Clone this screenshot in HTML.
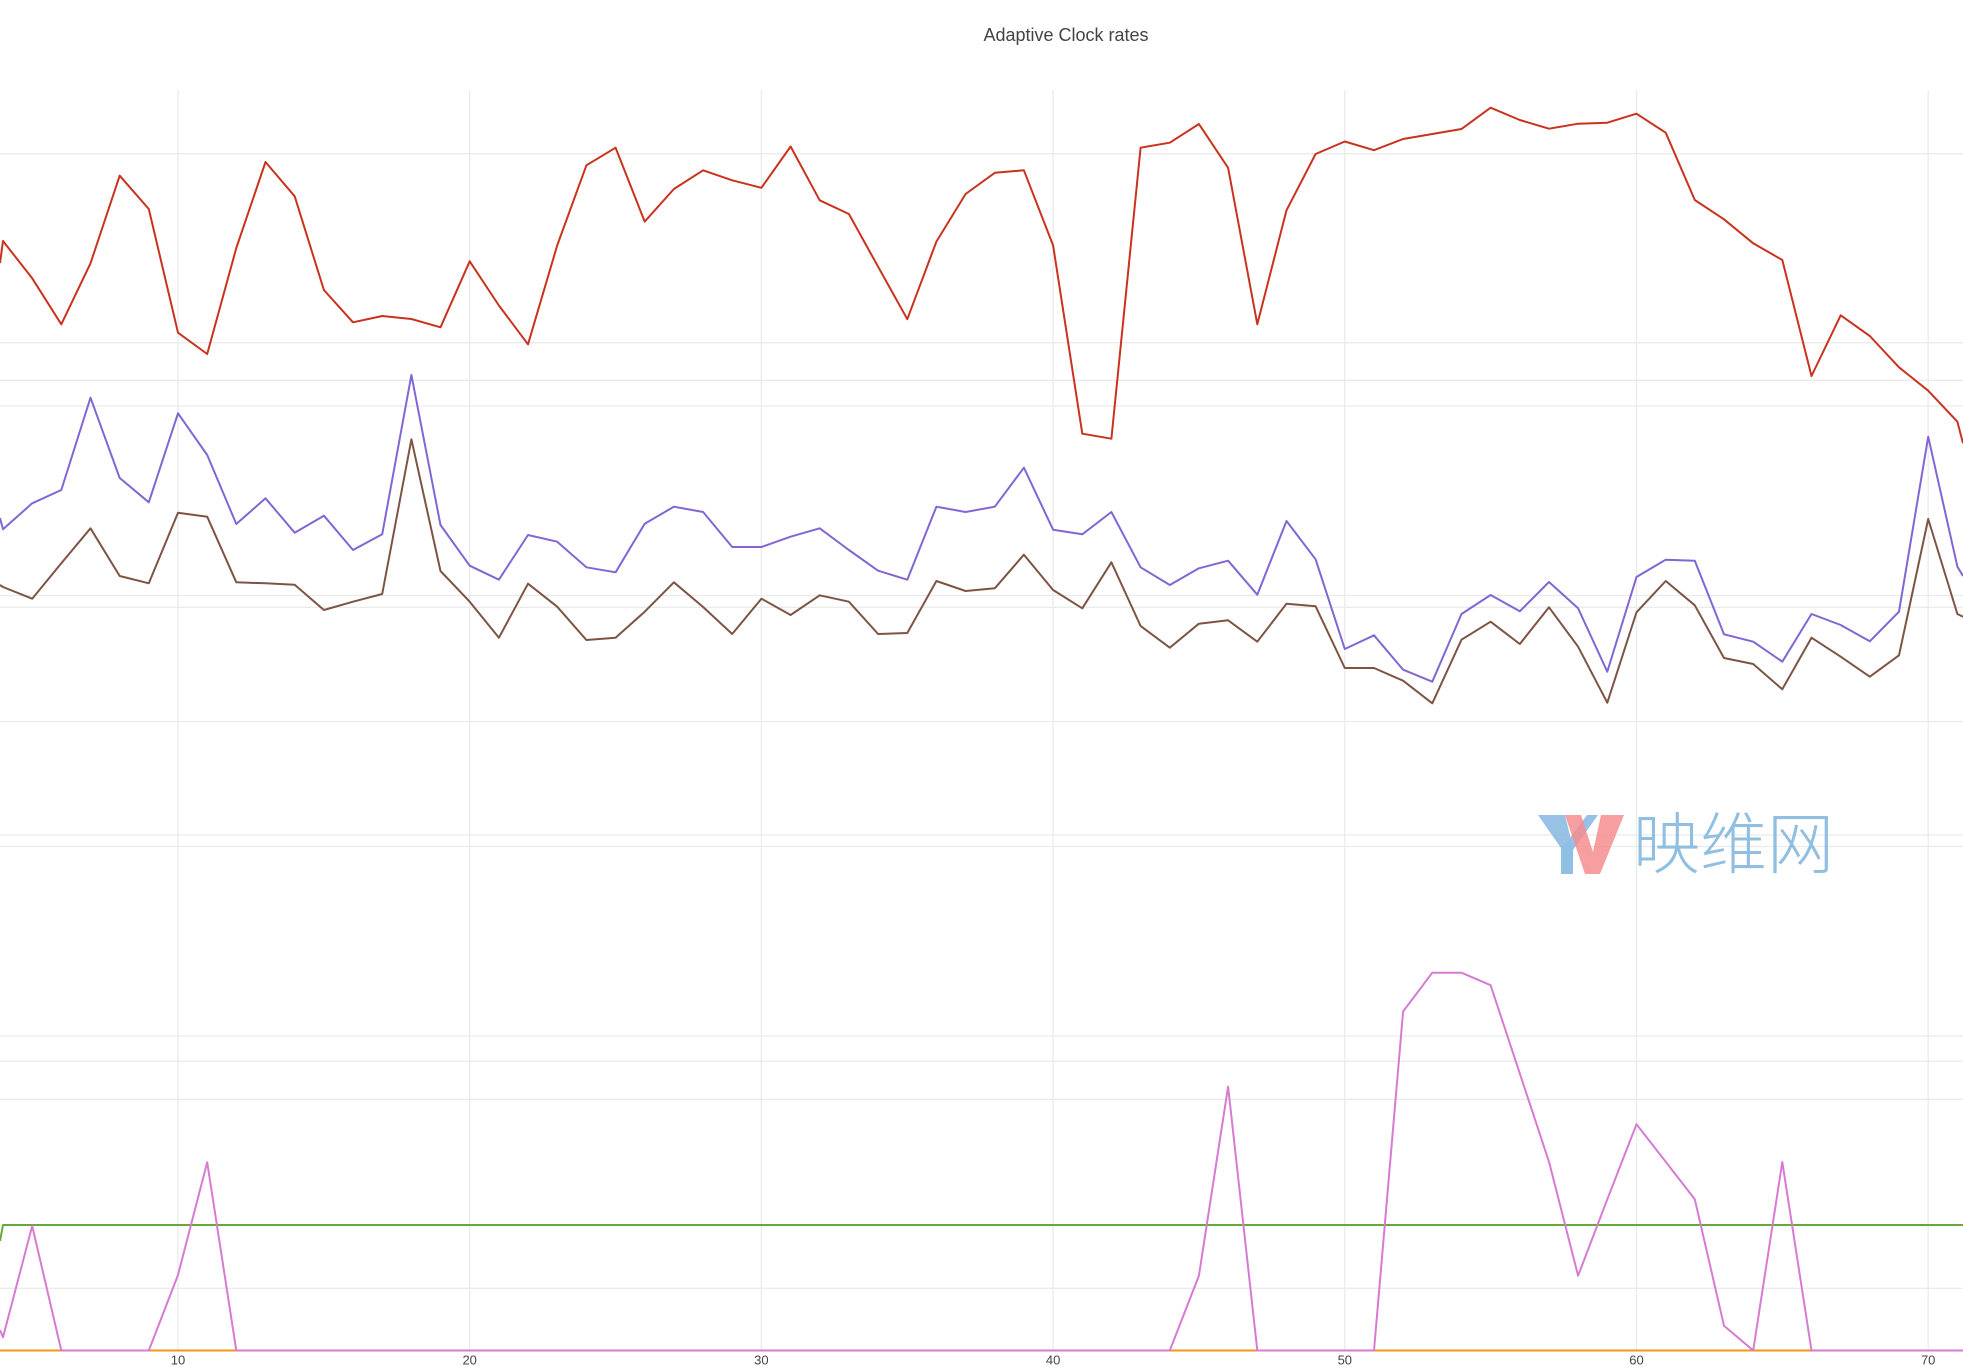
<!DOCTYPE html>
<html>
<head>
<meta charset="utf-8">
<style>
html,body{margin:0;padding:0;background:#fff;}
svg{display:block;}
</style>
</head>
<body>
<svg width="1963" height="1368" viewBox="0 0 1963 1368" xmlns="http://www.w3.org/2000/svg">
<rect x="0" y="0" width="1963" height="1368" fill="#fff"/>
<!-- title -->
<text x="1066" y="41" text-anchor="middle" font-family="Liberation Sans, sans-serif" font-size="18" fill="#444">Adaptive Clock rates</text>

<!-- horizontal gridlines -->
<g stroke="#ebebeb" stroke-width="1.3">
<line x1="0" y1="153.7" x2="1963" y2="153.7"/>
<line x1="0" y1="342.7" x2="1963" y2="342.7"/>
<line x1="0" y1="380.3" x2="1963" y2="380.3"/>
<line x1="0" y1="406" x2="1963" y2="406"/>
<line x1="0" y1="595.5" x2="1963" y2="595.5"/>
<line x1="0" y1="607.3" x2="1963" y2="607.3"/>
<line x1="0" y1="721.5" x2="1963" y2="721.5"/>
<line x1="0" y1="835" x2="1963" y2="835"/>
<line x1="0" y1="846.5" x2="1963" y2="846.5"/>
<line x1="0" y1="1036" x2="1963" y2="1036"/>
<line x1="0" y1="1061.3" x2="1963" y2="1061.3"/>
<line x1="0" y1="1099.3" x2="1963" y2="1099.3"/>
<line x1="0" y1="1288.3" x2="1963" y2="1288.3"/>
</g>
<!-- vertical gridlines -->
<g stroke="#ebebeb" stroke-width="1.3">
<line x1="178" y1="90" x2="178" y2="1351"/>
<line x1="469.7" y1="90" x2="469.7" y2="1351"/>
<line x1="761.4" y1="90" x2="761.4" y2="1351"/>
<line x1="1053.1" y1="90" x2="1053.1" y2="1351"/>
<line x1="1344.8" y1="90" x2="1344.8" y2="1351"/>
<line x1="1636.5" y1="90" x2="1636.5" y2="1351"/>
<line x1="1928.2" y1="90" x2="1928.2" y2="1351"/>
</g>

<!-- watermark -->
<g opacity="0.95">
<polygon points="1538,815 1565,815 1573,848 1561,848" fill="#8bbce3" opacity="0.95"/>
<polygon points="1587,815 1598,815 1573,850 1561,850" fill="#8bbce3" opacity="0.95"/>
<rect x="1561" y="846" width="12" height="28" fill="#8bbce3"/>
<polygon points="1565,815 1581,815 1593,852 1601,815 1624,815 1600,874 1585,874" fill="#f4868b" opacity="0.85"/>
<text x="1633" y="868" font-family="Noto Sans CJK SC, WenQuanYi Zen Hei, sans-serif" font-weight="300" font-size="67" fill="#8bbce0">映维网</text>
</g>

<g fill="none" stroke-width="2" stroke-linejoin="round">
<!-- orange -->
<polyline stroke="#f0961c" points="0,1350.5 1963,1350.5"/>
<!-- green -->
<polyline stroke="#66a83a" points="0,1241 3,1225 1963,1225"/>
<!-- pink -->
<polyline stroke="#d67bd1" points="0,1330 3,1337.3 32.2,1226 61.3,1350.5 148.8,1350.5 178,1275 207.2,1162.3 236.3,1350.5 1169.8,1350.5 1198.9,1275.7 1228.1,1086.6 1257.3,1350.5 1374,1350.5 1403.1,1011.5 1432.3,972.7 1461.5,972.7 1490.6,985.2 1549,1161.8 1578.1,1275.7 1607.3,1199.3 1636.5,1124.2 1665.7,1161.8 1694.8,1199.3 1724,1325.7 1753.2,1350.5 1782.3,1162 1811.5,1350.5 1963,1350.5"/>
<!-- purple -->
<polyline stroke="#8166d4" points="0,518 3,529.3 32.2,503.3 61.3,490 90.5,397.7 119.7,478 148.8,502.3 178,413.3 207.2,455 236.3,524 265.5,498.3 294.7,532.7 323.9,515.7 353,550 382.2,534.3 411.4,375 440.5,525 469.7,565.7 498.9,579.7 528,535 557.2,541.7 586.4,567.3 615.6,572.3 644.7,523.7 673.9,506.7 703.1,512 732.2,547 761.4,547 790.6,536.7 819.7,528.3 848.9,550 878.1,570.7 907.3,579.7 936.4,506.7 965.6,512 994.8,506.7 1023.9,467.7 1053.1,529.7 1082.3,534.3 1111.4,512 1140.6,567.3 1169.8,585 1198.9,568.3 1228.1,560.7 1257.3,594.7 1286.5,521 1315.6,559.3 1344.8,649 1374,635.3 1403.1,669.7 1432.3,681.7 1461.5,614 1490.6,595 1519.8,611.3 1549,582 1578.1,608.3 1607.3,671.7 1636.5,577 1665.7,559.7 1694.8,560.7 1724,634.3 1753.2,641.7 1782.3,661.7 1811.5,614 1840.7,625 1869.8,641.3 1899,611.7 1928.2,436.7 1957.4,566.7 1963,576"/>
<!-- brown -->
<polyline stroke="#7d5444" points="0,585 3,587 32.2,598.7 61.3,563.3 90.5,528.3 119.7,576 148.8,583.3 178,512.7 207.2,516.7 236.3,582.3 265.5,583.3 294.7,584.7 323.9,610 353,601.7 382.2,594 411.4,439.3 440.5,571 469.7,601.7 498.9,637.7 528,583.7 557.2,606.7 586.4,640 615.6,637.7 644.7,611.7 673.9,582.3 703.1,607 732.2,634 761.4,598.7 790.6,615 819.7,595.3 848.9,601.7 878.1,634 907.3,633 936.4,581 965.6,591 994.8,588.3 1023.9,554.7 1053.1,590 1082.3,608.3 1111.4,562.3 1140.6,626 1169.8,647.7 1198.9,623.7 1228.1,620.3 1257.3,641.7 1286.5,603.7 1315.6,606.3 1344.8,668 1374,668 1403.1,680.7 1432.3,703.3 1461.5,639.7 1490.6,621.7 1519.8,644 1549,607.3 1578.1,646.7 1607.3,702.7 1636.5,612.3 1665.7,581 1694.8,605.3 1724,658 1753.2,664 1782.3,689.3 1811.5,637.7 1840.7,656.7 1869.8,676.7 1899,655.3 1928.2,519 1957.4,614 1963,616.7"/>
<!-- red -->
<polyline stroke="#c9321e" points="0,263 3,241 32.2,278.3 61.3,324.3 90.5,263.3 119.7,175.7 148.8,209 178,332.7 207.2,354 236.3,248 265.5,162 294.7,196.3 323.9,290 353,322.3 382.2,316 411.4,319 440.5,327.3 469.7,261.3 498.9,305.5 528,344.3 557.2,245.4 586.4,165.3 615.6,147.7 644.7,221.6 673.9,189 703.1,170.3 732.2,180.3 761.4,187.8 790.6,146.5 819.7,200.3 848.9,214 878.1,266.7 907.3,319.2 936.4,241.6 965.6,194 994.8,172.8 1023.9,170.3 1053.1,245.4 1082.3,433.7 1111.4,438.7 1140.6,147.7 1169.8,142.7 1198.9,124 1228.1,167.8 1257.3,324.2 1286.5,210.3 1315.6,154 1344.8,141.5 1374,150.2 1403.1,139 1432.3,134 1461.5,129 1490.6,107.7 1519.8,120 1549,128.7 1578.1,123.7 1607.3,122.7 1636.5,113.7 1665.7,132.7 1694.8,200 1724,219.3 1753.2,243.3 1782.3,260 1811.5,376 1840.7,315.3 1869.8,336 1899,367.3 1928.2,390.7 1957.4,421.7 1963,443.3"/>
</g>

<!-- x tick labels -->
<g font-family="Liberation Sans, sans-serif" font-size="13" fill="#444" text-anchor="middle">
<text x="178" y="1364.5">10</text>
<text x="469.7" y="1364.5">20</text>
<text x="761.4" y="1364.5">30</text>
<text x="1053.1" y="1364.5">40</text>
<text x="1344.8" y="1364.5">50</text>
<text x="1636.5" y="1364.5">60</text>
<text x="1928.2" y="1364.5">70</text>
</g>
</svg>
</body>
</html>
